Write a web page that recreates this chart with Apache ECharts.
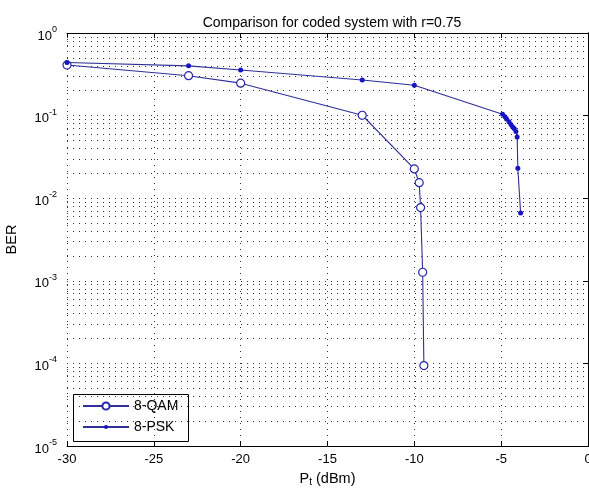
<!DOCTYPE html>
<html>
<head>
<meta charset="utf-8">
<script src="https://cdn.jsdelivr.net/npm/echarts@6/dist/echarts.min.js"></script>
<style>
  html, body { margin: 0; padding: 0; background: #fff; overflow: hidden; }
  #chart { width: 589px; height: 488px; }
</style>
</head>
<body>
<div id="chart"></div>
<script>
// Transmit power (dBm) and measured bit error rate for each modulation
const qamPower = [-30, -23, -20, -13, -10, -9.72, -9.64, -9.52, -9.45];
const qamBer   = [0.41, 0.304, 0.247, 0.101, 0.0226, 0.0154, 0.0077, 0.00127, 0.000094];

const pskPower = [-30, -23, -20, -13, -10, -4.92, -4.78, -4.69, -4.55, -4.44, -4.34, -4.25, -4.15, -4.08, -4.04, -3.88];
const pskBer   = [0.44, 0.40, 0.356, 0.27, 0.233, 0.104, 0.097, 0.091, 0.084, 0.078, 0.073, 0.070, 0.064, 0.055, 0.023, 0.0066];

const seriesNames = ['8-QAM', '8-PSK'];
const xTicks = [-30, -25, -20, -15, -10, -5, 0];
const yDecades = [-5, -4, -3, -2, -1, 0];

const FONT = '"Liberation Sans", Arial, Helvetica, sans-serif';
const LINE = '#2f2f96';
const GRIDC = '#333';
const DOTS = [1, 5];
const X0 = xTicks[0], X1 = xTicks[xTicks.length - 1];

// log-style minor gridlines at 2..9 of each decade
const minorLevels = [];
for (let i = 0; i < yDecades.length - 1; i++) {
  for (let m = 2; m <= 9; m++) minorLevels.push(m * Math.pow(10, yDecades[i]));
}

const chart = echarts.init(document.getElementById('chart'), null, { renderer: 'canvas' });

const pair = (xs, ys) => xs.map((x, i) => [x, ys[i]]);
const legendText = { fontFamily: FONT, fontSize: 14, color: '#000' };

chart.setOption({
  backgroundColor: '#fff',
  animation: false,
  title: {
    text: 'Comparison for coded system with r=0.75',
    left: 327, top: 11, textAlign: 'center',
    textStyle: { fontFamily: FONT, fontSize: 14, fontWeight: 'normal', color: '#000' }
  },
  grid: { left: 67, right: 1, top: 33, bottom: 42, containLabel: false, outerBoundsMode: 'none' },
  // one legend row per series so each keeps its own marker size
  legend: [{
    orient: 'vertical', left: 73, top: 399, padding: [0, 0, 0, 9],
    data: [seriesNames[0]],
    itemWidth: 46, itemHeight: 9,
    textStyle: legendText
  }, {
    orient: 'vertical', left: 73, top: 420, padding: [0, 0, 0, 9],
    data: [seriesNames[1]],
    itemWidth: 46, itemHeight: 5,
    textStyle: legendText
  }],
  graphic: [{
    type: 'rect', z: 100,
    shape: { x: 73.5, y: 394.5, width: 115, height: 47 },
    style: { fill: null, stroke: '#000', lineWidth: 1 },
    silent: true
  }, {
    type: 'rect', z: -1,
    shape: { x: 74, y: 395, width: 114, height: 46 },
    style: { fill: '#fff' },
    silent: true
  }],
  xAxis: [{
    type: 'value', min: X0, max: X1, interval: 5,
    position: 'bottom',
    name: 'P{sub|t} (dBm)', nameLocation: 'middle', nameGap: 24,
    nameTextStyle: {
      fontFamily: FONT, fontSize: 14.5, color: '#000',
      rich: { sub: { fontFamily: FONT, fontSize: 10, color: '#000', verticalAlign: 'bottom', padding: [7, 0, 0, 0] } }
    },
    axisLine: { lineStyle: { color: '#000', width: 1 } },
    axisTick: { inside: true, length: 5, lineStyle: { color: '#000' } },
    axisLabel: { fontFamily: FONT, fontSize: 13, color: '#000', margin: 7 },
    splitLine: { show: true, lineStyle: { color: GRIDC, type: DOTS, width: 1 } }
  }, {
    type: 'value', min: X0, max: X1, interval: 5,
    position: 'top',
    axisLine: { lineStyle: { color: '#000', width: 1 } },
    axisTick: { inside: true, length: 5, lineStyle: { color: '#000' } },
    axisLabel: { show: false },
    splitLine: { show: false }
  }],
  yAxis: [{
    type: 'log', logBase: 10, min: 1e-5, max: 1,
    position: 'left',
    name: 'BER', nameLocation: 'middle', nameGap: 48, nameRotate: 90,
    nameTextStyle: { fontFamily: FONT, fontSize: 14.5, color: '#000' },
    axisLine: { lineStyle: { color: '#000', width: 1 } },
    axisTick: { inside: true, length: 5, lineStyle: { color: '#000' } },
    axisLabel: {
      margin: 10,
      formatter: v => '{b|10}{s|' + Math.round(Math.log10(v)) + '}',
      rich: {
        b: { fontFamily: FONT, fontSize: 13, color: '#000', lineHeight: 16, padding: [6, 0, 0, 0] },
        s: { fontFamily: FONT, fontSize: 9, color: '#000', verticalAlign: 'top', lineHeight: 10 }
      }
    },
    splitLine: { show: true, lineStyle: { color: GRIDC, type: DOTS, width: 1 } }
  }, {
    type: 'log', logBase: 10, min: 1e-5, max: 1,
    position: 'right',
    axisLine: { lineStyle: { color: '#000', width: 1 } },
    axisTick: { inside: true, length: 5, lineStyle: { color: '#000' } },
    axisLabel: { show: false },
    splitLine: { show: false }
  }],
  series: [{
    name: 'minor-grid',
    type: 'lines',
    coordinateSystem: 'cartesian2d',
    silent: true,
    z: 1,
    lineStyle: { color: GRIDC, type: DOTS, width: 1, opacity: 1 },
    data: minorLevels.map(v => ({ coords: [[X0, v], [X1, v]] }))
  }, {
    name: seriesNames[0],
    type: 'line',
    data: pair(qamPower, qamBer),
    symbol: 'circle', symbolSize: 8,
    itemStyle: { color: '#fff', borderColor: '#2626a8', borderWidth: 1.2 },
    lineStyle: { color: LINE, width: 1.1 },
    z: 3
  }, {
    name: seriesNames[1],
    type: 'line',
    data: pair(pskPower, pskBer),
    symbol: 'circle', symbolSize: 5,
    itemStyle: { color: '#1414c4', borderColor: '#1414c4', borderWidth: 0 },
    lineStyle: { color: LINE, width: 1.1 },
    z: 4
  }]
});
</script>
</body>
</html>
